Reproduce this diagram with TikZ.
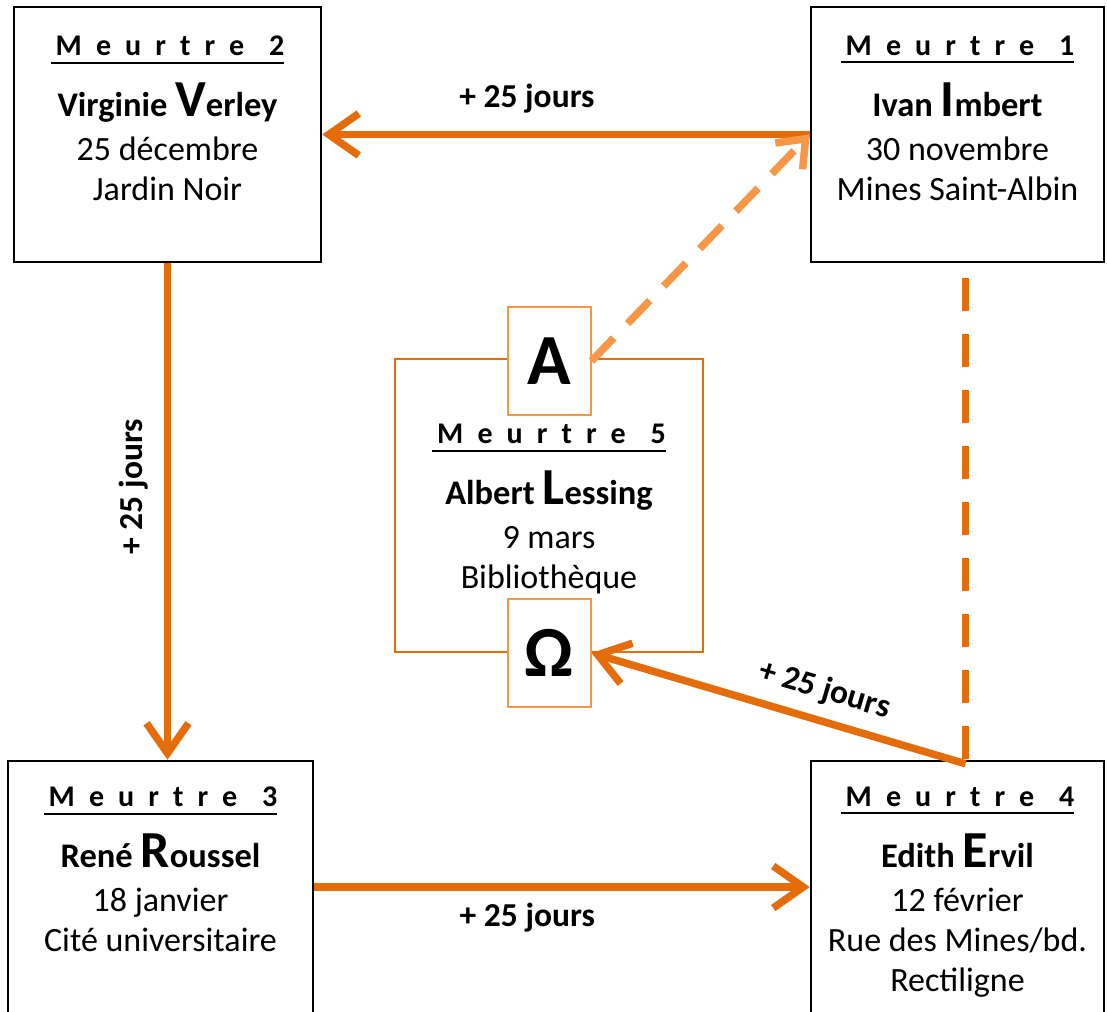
\documentclass[tikz,border=0pt]{standalone}
\usepackage{fontspec}
\setmainfont{Carlito}
\usetikzlibrary{arrows.meta, positioning}
\definecolor{bloodorange}{HTML}{E46C0A}
\definecolor{paleorange}{HTML}{F79646}

\newcommand{\mheader}[1]{{\bfseries\fontsize{30}{32}\selectfont\addfontfeature{LetterSpace=47}%
  \setbox0\hbox{\kern5pt Meurtre\kern4pt\ #1}\rlap{\raisebox{-8pt}{\rule{\wd0}{2pt}}}\box0}}
\newcommand{\victim}[3]{{\bfseries\fontsize{34.5}{40}\selectfont #1\fontsize{52}{40}\selectfont #2\fontsize{34.5}{40}\selectfont #3}}

\begin{document}
\begin{tikzpicture}[
    x=1pt, y=-1pt,
    murder/.style={rectangle, draw=black, line width=2.5pt, fill=white, inner sep=0pt},
    info/.style={align=center, inner sep=0pt, font=\fontsize{34}{40}\selectfont},
    letterbox/.style={rectangle, draw=paleorange, line width=2pt, fill=white, minimum width=83pt, minimum height=108pt, inner sep=0pt, font=\bfseries\fontsize{72}{72}\selectfont},
    gap/.style={font=\bfseries\fontsize{33.5}{36}\selectfont, inner sep=0pt},
    link/.style={-{Straight Barb[length=30pt, width=42pt]}, line width=7.5pt, draw=bloodorange},
    backlink/.style={{Straight Barb[length=30pt, width=42pt]}-, line width=7.5pt, draw=bloodorange},
    hintlink/.style={-{Straight Barb[length=24pt, width=38pt]}, line width=7.5pt, draw=paleorange, dash pattern=on 32pt off 20pt},
    hintline/.style={line width=7.5pt, draw=bloodorange, dash pattern=on 33pt off 23pt}
]
\path[use as bounding box, clip] (0,0) rectangle (1107,1011);

% the four boxes
\node[murder, minimum width=307pt, minimum height=255pt] (m2) at (167.5,134.5) {};
\node[murder, minimum width=293pt, minimum height=255pt] (m1) at (957.5,134.5) {};
\node[murder, minimum width=305pt, minimum height=252pt] (m3) at (160.5,887) {};
\node[murder, minimum width=293pt, minimum height=252pt] (m4) at (957.5,887) {};

\node[info, below=30pt of m2.north] (m2txt) {\mheader{2}\\[18pt]
  \victim{Virginie }{V}{erley}\\[4pt] 25 décembre\\ Jardin Noir};
\node[info, below=30pt of m1.north] (m1txt) {\mheader{1}\\[18pt]
  \victim{Ivan }{I}{mbert}\\[4pt] 30 novembre\\ Mines Saint-Albin};
\node[info, below=27pt of m3.north] (m3txt) {\mheader{3}\\[18pt]
  \victim{René }{R}{oussel}\\[4pt] 18 janvier\\ Cité universitaire};
\node[info, below=27pt of m4.north] (m4txt) {\mheader{4}\\[18pt]
  \victim{Edith }{E}{rvil}\\[4pt] 12 février\\ Rue des Mines/bd.\\ Rectiligne};

% the fifth one, in the middle
\node[draw=bloodorange, line width=2pt, minimum width=308pt, minimum height=293pt, inner sep=0pt] (m5) at (549,505.5) {};
\node[letterbox] (alpha) at ([yshift=-3pt]m5.north) {A};
\node[letterbox] (omega) at (m5.south) {Ω};
\node[info, below=8pt of alpha.south] (m5txt) {\mheader{5}\\[18pt]
  \victim{Albert }{L}{essing}\\[4pt] 9 mars\\ Bibliothèque};

\coordinate (m1foot) at ([xshift=8pt, yshift=-15pt]m1.south);
\coordinate (m4head) at ([xshift=8pt]m4.north);

% connectors
\draw[link] (m1.west) -- node[gap, pos=0.58, above=18pt] (d12) {+ 25 jours} (m2.east);
\draw[link] (m2.south) -- node[gap, pos=0.45, rotate=90, anchor=south, yshift=16pt] (d23) {+ 25 jours} (m2.south |- m3.north);
\draw[link] (m3.east) -- node[gap, pos=0.43, below=12pt] (d34) {+ 25 jours} (m4.west);
\draw[backlink] (omega.east) -- node[gap, pos=0.6, sloped, above=12pt] (d45) {+ 25 jours} ([yshift=-4pt]m4head);
\draw[hintline] (m1foot) -- ([yshift=-4pt]m4head);
\draw[hintlink] (alpha.east) -- (m1.west);
\end{tikzpicture}
\end{document}
